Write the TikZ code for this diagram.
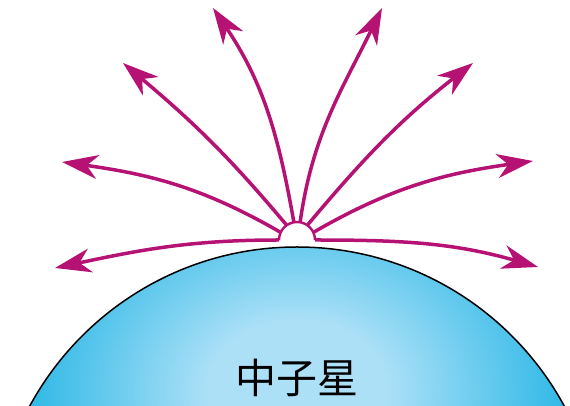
\documentclass[tikz,border=0pt]{standalone}
\usepackage{fontspec}
\newfontfamily\cjk{Noto Sans CJK SC}
\usetikzlibrary{arrows.meta}
\definecolor{raggiocol}{RGB}{182,18,116}
\definecolor{stellablu}{RGB}{0,170,224}
\definecolor{stellachiaro}{RGB}{172,224,247}
\pgfdeclareradialshading{bagliore}{\pgfpoint{0bp}{0bp}}{color(0bp)=(stellachiaro); color(8bp)=(stellachiaro); color(30bp)=(stellablu); color(50bp)=(stellablu)}

\begin{document}
\begin{tikzpicture}[x=1pt,y=1pt,
    raggio/.style={raggiocol, line width=3.5pt, -{Stealth[length=36pt,width=24pt,inset=11pt]}}]
    \useasboundingbox (0,0) rectangle (570,406);

    % Stella di neutroni
    \begin{scope}
        \clip (297,-145) circle (304);
        \fill[stellablu] (297,-145) circle (304);
        \shade[shading=bagliore] (297,15) ellipse (280 and 220);
    \end{scope}
    \draw[line width=1.5pt] (297,-145) circle (304);
    \node[font=\cjk\fontsize{41}{41}\selectfont] (nome) at (297,28) {中子星};

    % Punto di emissione
    \node[circle, inner sep=0pt, outer sep=0pt, minimum size=36pt] (spot) at (297,166) {};
    \fill[white] (spot.0) arc (0:180:18) -- cycle;
    \draw[raggiocol, line width=2.4pt] (spot.0) arc (0:180:18);

    % Punte dei raggi
    \coordinate (t1) at (213,398);
    \coordinate (t2) at (123,343);
    \coordinate (t3) at (62,244);
    \coordinate (t4) at (55,138);
    \coordinate (t5) at (382,398);
    \coordinate (t6) at (473,343);
    \coordinate (t7) at (533,245);
    \coordinate (t8) at (538,139);

    % Raggi
    \foreach \a/\o/\i/\t in {100/100/-56/t1, 125/130/-40/t2, 155/150/-8/t3, 180/180/12/t4,
                             80/82/-116/t5, 55/50/-142/t6, 25/30/-172/t7, 0/0/164/t8}
        \draw[raggio] (spot.\a) to[out=\o,in=\i] (\t);
\end{tikzpicture}
\end{document}
